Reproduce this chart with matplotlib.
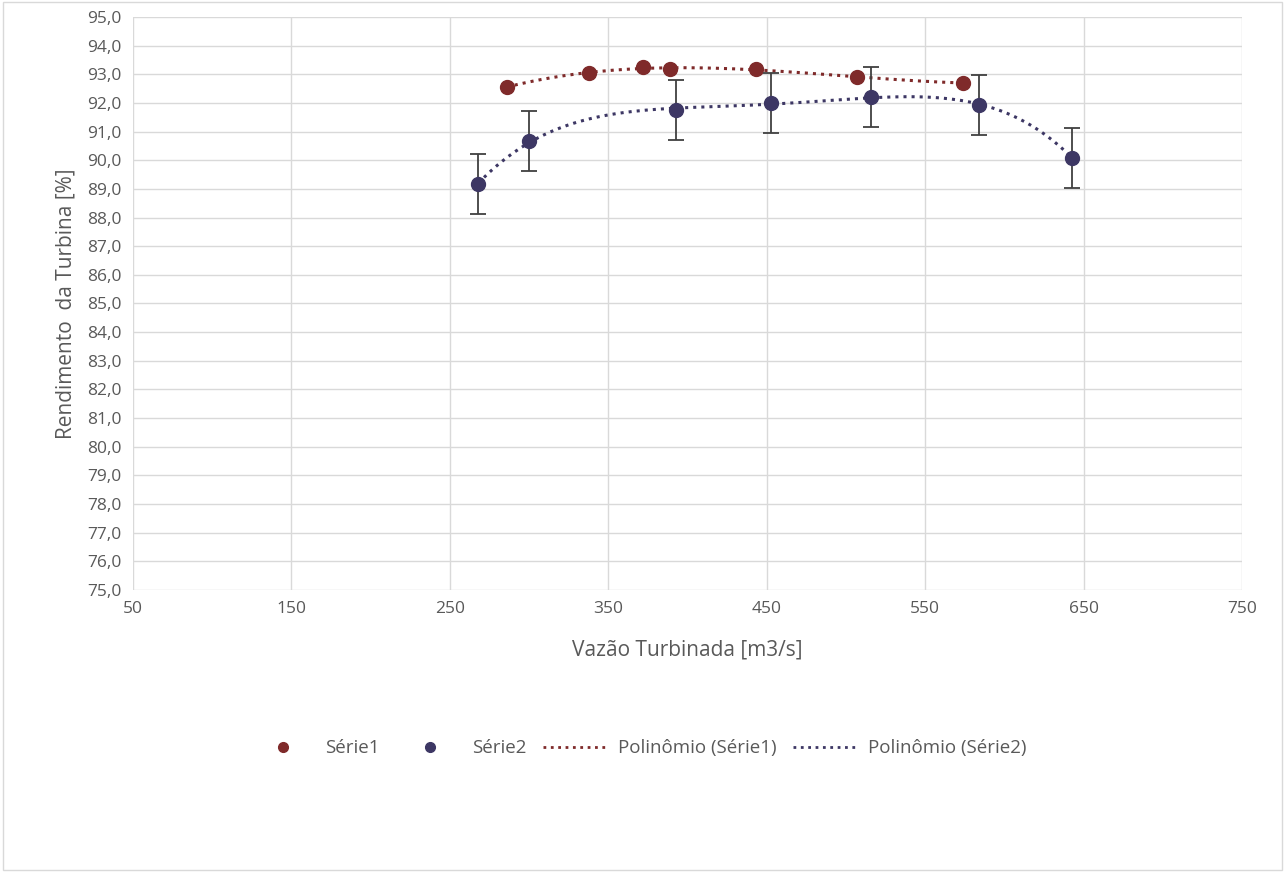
import numpy as np
import matplotlib.pyplot as plt
from matplotlib.ticker import FuncFormatter, MultipleLocator
from matplotlib.lines import Line2D

plt.rcParams['font.family'] = ['Open Sans', 'DejaVu Sans']

# dados
vazao1 = [286, 338, 372, 389, 443, 507, 574]
rend1 = [92.56, 93.05, 93.25, 93.18, 93.18, 92.9, 92.7]

vazao2 = [268, 300, 393, 453, 516, 584, 643]
rend2 = [89.17, 90.67, 91.75, 92.0, 92.2, 91.93, 90.08]
erro2 = [1.05, 1.05, 1.05, 1.05, 1.05, 1.05, 1.05]

ticks_x = [50, 150, 250, 350, 450, 550, 650, 750]

cor1 = '#7f2a2a'
cor2 = '#3d3764'
cinza = '#595959'

fig = plt.figure(figsize=(12.85, 8.72), dpi=100)
ax = fig.add_axes([0.1035, 0.3234, 0.863, 0.6571])

# linhas de tendência polinomiais
p1 = np.polyfit(vazao1, rend1, 3)
xs1 = np.linspace(min(vazao1), max(vazao1), 200)
p2 = np.polyfit(vazao2, rend2, 4)
xs2 = np.linspace(min(vazao2), max(vazao2), 200)

ax.plot(xs1, np.polyval(p1, xs1), ':', color=cor1, lw=2.2, zorder=2)
ax.plot(xs2, np.polyval(p2, xs2), ':', color=cor2, lw=2.2, zorder=2)

ax.plot(vazao1, rend1, 'o', color=cor1, ms=10, zorder=3)
ax.errorbar(vazao2, rend2, yerr=erro2, fmt='o', color=cor2, ms=10, ecolor='#404040',
            elinewidth=1.3, capsize=6, capthick=1.3, zorder=3)

ax.set_xlim(50, 750)
ax.set_ylim(75, 95)
ax.set_xticks(ticks_x)
ax.yaxis.set_major_locator(MultipleLocator(1))
ax.yaxis.set_major_formatter(FuncFormatter(lambda v, p: f'{v:.1f}'.replace('.', ',')))
ax.grid(True, color='#d9d9d9', lw=1)
ax.set_axisbelow(True)
for s in ax.spines.values():
    s.set_visible(False)
ax.tick_params(length=0, labelsize=12.5, colors=cinza, pad=8)

ax.set_xlabel('Vazão Turbinada [m3/s]', fontsize=15, color=cinza, labelpad=16)
ax.set_ylabel('Rendimento  da Turbina [%]', fontsize=15, color=cinza, labelpad=8)

handles = [
    Line2D([], [], ls='', marker='o', color=cor1, ms=7),
    Line2D([], [], ls='', marker='o', color=cor2, ms=7),
    Line2D([], [], ls=':', color=cor1, lw=2),
    Line2D([], [], ls=':', color=cor2, lw=2),
]
labels = ['Série1', 'Série2', 'Polinômio (Série1)', 'Polinômio (Série2)']
fig.legend(handles, labels, loc='center', bbox_to_anchor=(0.497, 0.142),
           ncol=4, frameon=False, fontsize=13.5, labelcolor=cinza, handlelength=3.5,
           columnspacing=0.9, handletextpad=0.5)

fig.patches.append(plt.Rectangle((0.002, 0.002), 0.996, 0.996, transform=fig.transFigure,
                                 fill=False, edgecolor='#d9d9d9', lw=1))

fig.savefig('out.png', dpi=100)
